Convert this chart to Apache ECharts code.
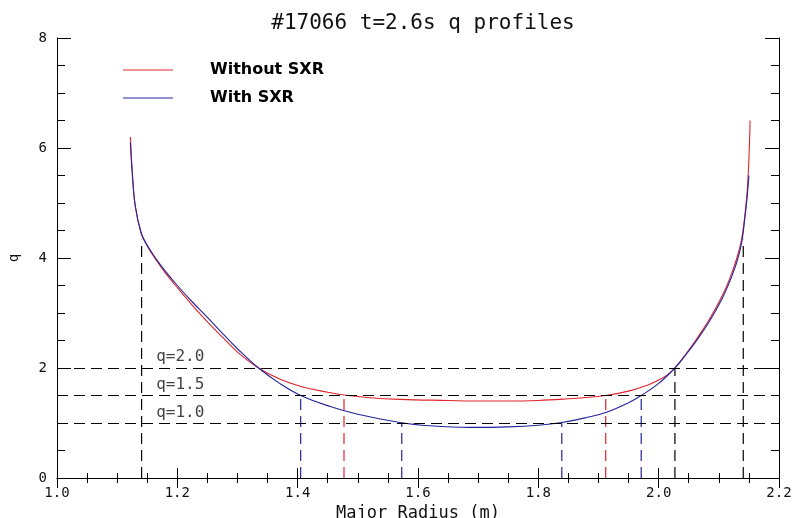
<!DOCTYPE html>
<html>
<head>
<meta charset="utf-8">
<script src="https://cdn.jsdelivr.net/npm/echarts@6/dist/echarts.min.js"></script>
<style>
  html, body { margin: 0; padding: 0; background: #fff; }
  #chart { width: 794px; height: 518px; }
</style>
</head>
<body>
<div id="chart"></div>
<script>
// q profile without SXR constraint
const radiusRed = [1.122, 1.125, 1.13, 1.14, 1.15, 1.165, 1.18, 1.2, 1.225, 1.25, 1.275, 1.3, 1.335,
  1.37, 1.41, 1.45, 1.477, 1.52, 1.57, 1.65, 1.70, 1.75, 1.80, 1.85, 1.88, 1.912, 1.95, 1.98, 2.0,
  2.015, 2.027, 2.045, 2.065, 2.085, 2.105, 2.118, 2.13, 2.138, 2.143, 2.147, 2.150, 2.152];
const qRed = [6.2, 5.6, 4.95, 4.45, 4.22, 3.96, 3.73, 3.46, 3.14, 2.84, 2.56, 2.29, 2.0,
  1.8, 1.65, 1.56, 1.51, 1.46, 1.43, 1.41, 1.40, 1.40, 1.41, 1.44, 1.465, 1.5, 1.58, 1.68, 1.78,
  1.88, 2.0, 2.25, 2.56, 2.9, 3.3, 3.62, 4.0, 4.35, 4.75, 5.2, 5.8, 6.5];

// q profile with SXR constraint
const radiusBlue = [1.122, 1.125, 1.13, 1.14, 1.15, 1.165, 1.18, 1.2, 1.225, 1.25, 1.275, 1.3, 1.335,
  1.37, 1.405, 1.454, 1.5, 1.57, 1.62, 1.686, 1.75, 1.80, 1.839, 1.88, 1.912, 1.95, 1.971, 2.0,
  2.027, 2.045, 2.065, 2.085, 2.105, 2.118, 2.13, 2.138, 2.143, 2.147, 2.150];
const qBlue = [6.1, 5.55, 4.95, 4.45, 4.23, 3.98, 3.76, 3.5, 3.2, 2.92, 2.63, 2.35, 2.0,
  1.72, 1.5, 1.3, 1.16, 1.01, 0.95, 0.92, 0.93, 0.96, 1.01, 1.1, 1.19, 1.37, 1.5, 1.72,
  2.0, 2.24, 2.53, 2.86, 3.25, 3.57, 3.93, 4.28, 4.7, 5.1, 5.5];

// reference levels and drop lines
const qLevels = [2.0, 1.5, 1.0];
const levelLabels = ['q=2.0', 'q=1.5', 'q=1.0'];
const levelLabelX = [1.164, 1.164, 1.164];
const levelLabelQ = [2.21, 1.7, 1.19];

const blackDropX = [1.1406, 2.027, 2.1406];
const blackDropTop = [4.33, 2.0, 4.33];
const redDropX = [1.477, 1.912];
const redDropTop = [1.5, 1.5];
const blueDropX = [1.405, 1.573, 1.839, 1.971];
const blueDropTop = [1.5, 1.0, 1.0, 1.5];

const xTicks = [1.0, 1.2, 1.4, 1.6, 1.8, 2.0, 2.2];
const yTicks = [0, 2, 4, 6, 8];

const RED = '#e0242c';
const BLUE = '#22249a';
const FONT = 'DejaVu Sans Mono';

function pairs(xs, ys) {
  return xs.map((x, i) => [x, ys[i]]);
}

function dropSeries(xs, tops, color) {
  return xs.map((x, i) => ({
    type: 'line',
    data: [[x, 0], [x, tops[i]]],
    symbol: 'none',
    silent: true,
    z: 1,
    lineStyle: { color: color, width: 1.2, type: [11, 6] },
  }));
}

const axisCommon = {
  type: 'value',
  axisLine: { show: true, lineStyle: { color: '#000', width: 1 } },
  splitLine: { show: false },
  minorSplitLine: { show: false },
};

const chart = echarts.init(document.getElementById('chart'));

chart.setOption({
  animation: false,
  backgroundColor: '#fff',
  title: {
    text: '#17066 t=2.6s q profiles',
    left: 418,
    textAlign: 'center',
    top: 8,
    textStyle: { fontFamily: FONT, fontSize: 21, fontWeight: 'normal', color: '#111' },
  },
  legend: {
    data: [
      { name: 'Without SXR', icon: 'rect' },
      { name: 'With SXR', icon: 'rect' },
    ],
    orient: 'vertical',
    left: 118,
    top: 57,
    itemWidth: 50,
    itemHeight: 1,
    itemGap: 12,
    textStyle: {
      fontFamily: 'DejaVu Sans',
      fontWeight: 'bold',
      fontSize: 16,
      color: '#000',
      padding: [0, 0, 0, 32],
    },
  },
  grid: { left: 57, right: 15, top: 38, bottom: 40, outerBoundsMode: 'none' },
  xAxis: [
    Object.assign({}, axisCommon, {
      position: 'bottom',
      min: xTicks[0],
      max: xTicks[xTicks.length - 1],
      interval: 0.2,
      name: 'Major Radius (m)',
      nameLocation: 'middle',
      nameGap: 18,
      nameTextStyle: { fontFamily: FONT, fontSize: 17, color: '#111' },
      axisTick: { show: true, inside: true, length: 10, lineStyle: { color: '#000' } },
      minorTick: { show: true, splitNumber: 4, length: 5, lineStyle: { color: '#000' } },
      axisLabel: {
        margin: 8,
        fontFamily: FONT,
        fontSize: 14,
        color: '#111',
        formatter: v => v.toFixed(1),
      },
    }),
    Object.assign({}, axisCommon, {
      position: 'top',
      min: xTicks[0],
      max: xTicks[xTicks.length - 1],
      interval: 0.2,
      axisTick: { show: true, inside: true, length: 10, lineStyle: { color: '#000' } },
      minorTick: { show: true, splitNumber: 4, length: 5, lineStyle: { color: '#000' } },
      axisLabel: { show: false },
    }),
  ],
  yAxis: [
    Object.assign({}, axisCommon, {
      position: 'left',
      min: yTicks[0],
      max: yTicks[yTicks.length - 1],
      interval: 2,
      name: 'q',
      nameLocation: 'middle',
      nameGap: 36,
      nameTextStyle: { fontFamily: FONT, fontSize: 14, color: '#111' },
      axisTick: { show: true, inside: true, length: 14, lineStyle: { color: '#000' } },
      minorTick: { show: true, splitNumber: 4, length: 8, lineStyle: { color: '#000' } },
      axisLabel: { margin: 10, fontFamily: FONT, fontSize: 14, color: '#111' },
    }),
    Object.assign({}, axisCommon, {
      position: 'right',
      min: yTicks[0],
      max: yTicks[yTicks.length - 1],
      interval: 2,
      axisTick: { show: true, inside: true, length: 14, lineStyle: { color: '#000' } },
      minorTick: { show: true, splitNumber: 4, length: 8, lineStyle: { color: '#000' } },
      axisLabel: { show: false },
    }),
  ],
  series: [
    {
      name: 'Without SXR',
      type: 'line',
      data: pairs(radiusRed, qRed),
      symbol: 'none',
      smooth: 0.4,
      z: 3,
      color: RED,
      lineStyle: { color: RED, width: 1.1 },
      markLine: {
        silent: true,
        symbol: 'none',
        label: { show: false },
        lineStyle: { color: '#000', width: 1.2, type: [11, 6] },
        data: qLevels.map(q => ({ yAxis: q })),
      },
    },
    {
      name: 'With SXR',
      type: 'line',
      data: pairs(radiusBlue, qBlue),
      symbol: 'none',
      smooth: 0.4,
      z: 3,
      color: BLUE,
      lineStyle: { color: BLUE, width: 1.1 },
    },
    {
      type: 'scatter',
      data: levelLabels.map((t, i) => ({ name: t, value: [levelLabelX[i], levelLabelQ[i]] })),
      symbolSize: 1,
      itemStyle: { color: 'rgba(0,0,0,0)' },
      silent: true,
      label: {
        show: true,
        position: 'right',
        distance: 0,
        formatter: p => p.name,
        fontFamily: FONT,
        fontSize: 16,
        color: '#111',
      },
    },
  ]
    .concat(dropSeries(blackDropX, blackDropTop, '#000'))
    .concat(dropSeries(redDropX, redDropTop, RED))
    .concat(dropSeries(blueDropX, blueDropTop, BLUE)),
});
</script>
</body>
</html>
